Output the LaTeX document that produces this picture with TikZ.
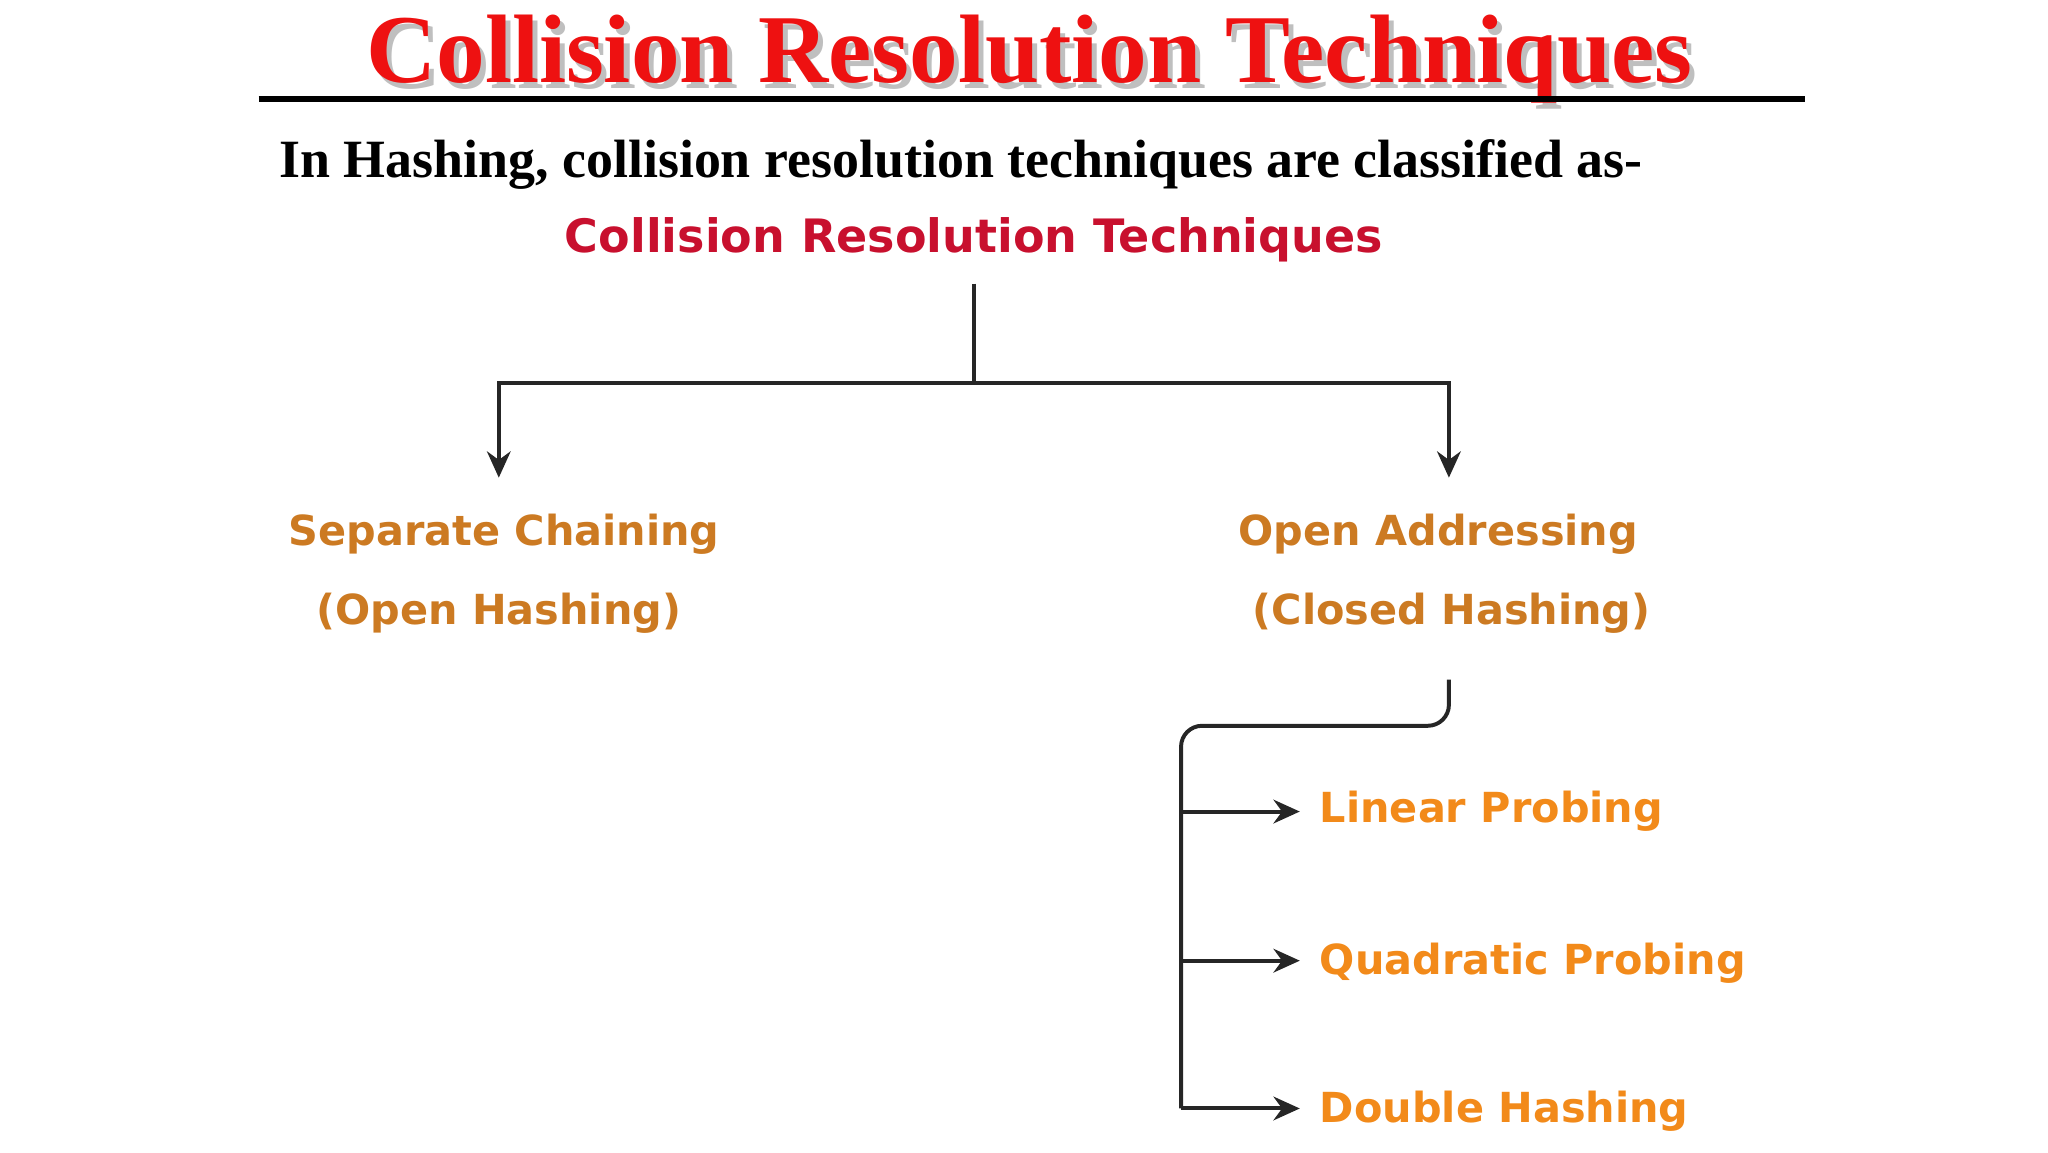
\documentclass[tikz,border=0pt]{standalone}
\usepackage{fontspec}
\setmainfont{Liberation Serif}
\newfontfamily\djvfont{DejaVu Sans}
\usetikzlibrary{arrows.meta}
\definecolor{ttl}{HTML}{EE1111}
\definecolor{rootc}{HTML}{C8102E}
\definecolor{orA}{HTML}{CC7A22}
\definecolor{orB}{HTML}{F28A1A}
\tikzset{
  lab/.style={font=\djvfont\bfseries\fontsize{31.5}{34}\selectfont, inner sep=0pt},
  conn/.style={line width=3pt, black!85},
  arr/.style={conn, -{Stealth[length=20pt,width=18pt]}},
}
\begin{document}
\begin{tikzpicture}[x=1bp,y=-1bp]
\useasboundingbox (0,0) rectangle (1552,873);
\node[text=black!25, font=\bfseries\fontsize{74}{78}\selectfont] at (784,49) {Collision Resolution Techniques};
\node[text=ttl, font=\bfseries\fontsize{74}{78}\selectfont] (title) at (780,45) {Collision Resolution Techniques};
\draw[line width=5pt] (196,75) -- (1368,75);
\node[anchor=west, font=\bfseries\fontsize{41}{44}\selectfont] (sub) at (208,125) {In Hashing, collision resolution techniques are classified as-};
\node[lab, text=rootc, font=\djvfont\bfseries\fontsize{35}{38}\selectfont] (root) at (738,182) {Collision Resolution Techniques};
\node[lab, text=orA] (sc) at (382,405) {Separate Chaining};
\node[lab, text=orA] (sc2) at (378,465) {(Open Hashing)};
\node[lab, text=orA] (oa) at (1090,405) {Open Addressing};
\node[lab, text=orA] (oa2) at (1100,465) {(Closed Hashing)};
\node[lab, text=orB, anchor=west] (lp) at (1000,615) {Linear Probing};
\node[lab, text=orB, anchor=west] (qp) at (1000,730) {Quadratic Probing};
\node[lab, text=orB, anchor=west] (dh) at (1000,842) {Double Hashing};
\coordinate (j) at (738,290);
\coordinate (a1) at (378,362);
\coordinate (a2) at (1098,362);
\draw[conn] (738,215) -- (j);
\draw[arr] (j) -| (a1);
\draw[arr] (j) -| (a2);
\coordinate (s) at (1098,515);
\coordinate (b) at (895,840);
\draw[conn, rounded corners=16pt] (s) -- (1098,550) -- (895,550) -- (b);
\coordinate (e1) at (985,615);
\coordinate (e2) at (985,728);
\coordinate (e3) at (985,840);
\draw[arr] (895,615) -- (e1);
\draw[arr] (895,728) -- (e2);
\draw[arr] (b) -- (e3);
\end{tikzpicture}
\end{document}
